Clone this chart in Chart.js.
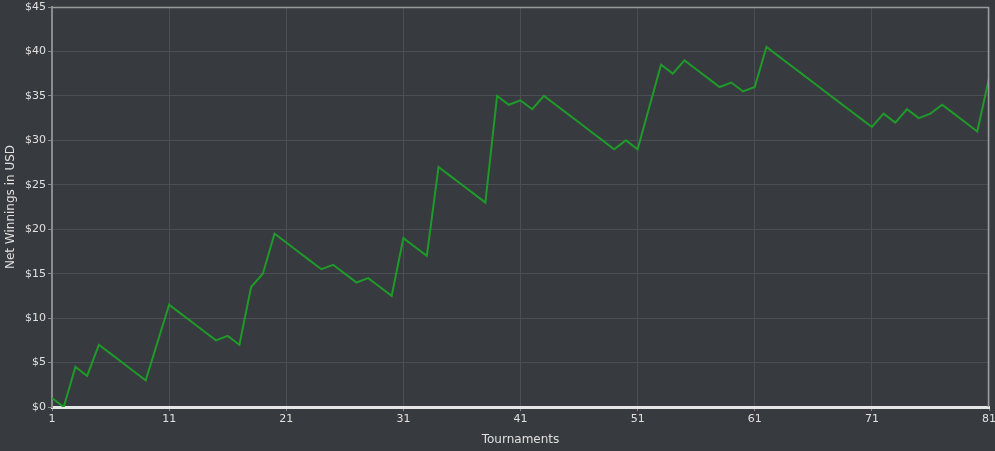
<!DOCTYPE html>
<html>
<head>
<meta charset="utf-8">
<script src="https://cdn.jsdelivr.net/npm/chart.js@4/dist/chart.umd.min.js"></script>
<style>
  html, body { margin: 0; padding: 0; background: #373a3e; }
  #wrap { width: 995px; height: 451px; }
</style>
</head>
<body>
<div id="wrap"><canvas id="winnings_chart"></canvas></div>
<script>
// net winnings after each tournament
const net_winnings = [
  1, 0, 4.5, 3.5, 7, 6, 5, 4, 3, 7.25,
  11.5, 10.5, 9.5, 8.5, 7.5, 8, 7, 13.5, 15, 19.5,
  18.5, 17.5, 16.5, 15.5, 16, 15, 14, 14.5, 13.5, 12.5,
  19, 18, 17, 27, 26, 25, 24, 23, 35, 34,
  34.5, 33.5, 35, 34, 33, 32, 31, 30, 29, 30,
  29, 33.75, 38.5, 37.5, 39, 38, 37, 36, 36.5, 35.5,
  36, 40.5, 39.5, 38.5, 37.5, 36.5, 35.5, 34.5, 33.5, 32.5,
  31.5, 33, 32, 33.5, 32.5, 33, 34, 33, 32, 31,
  37,
];
const y_ticks = [0, 5, 10, 15, 20, 25, 30, 35, 40, 45];
const x_ticks = [1, 11, 21, 31, 41, 51, 61, 71, 81];

const tournaments = net_winnings.map((v, i) => i + 1);

const font = { family: "DejaVu Sans", size: 11 };

// top and right frame lines
const frame = {
  id: "frame",
  afterDraw(chart) {
    const a = chart.chartArea;
    const ctx = chart.ctx;
    ctx.save();
    ctx.strokeStyle = "#9a9c9e";
    ctx.lineWidth = 1.5;
    ctx.beginPath();
    ctx.moveTo(a.left, a.top + 0.5);
    ctx.lineTo(a.right - 0.5, a.top + 0.5);
    ctx.lineTo(a.right - 0.5, a.bottom);
    ctx.stroke();
    ctx.restore();
  },
};

const winnings_ctx = document.getElementById("winnings_chart");

const winnings_chart = new Chart(winnings_ctx, {
  type: "line",
  data: {
    labels: tournaments,
    datasets: [
      {
        data: net_winnings.map((v, i) => ({ x: tournaments[i], y: v })),
        borderColor: "#1f9a2a",
        borderWidth: 2,
        pointRadius: 0,
        tension: 0,
      },
    ],
  },
  options: {
    responsive: true,
    maintainAspectRatio: false,
    animation: false,
    layout: { padding: { top: 7, right: 6, left: 0, bottom: 0 } },
    plugins: {
      legend: { display: false },
      tooltip: { enabled: false },
    },
    scales: {
      x: {
        type: "linear",
        min: 1,
        max: 81,
        afterBuildTicks(scale) {
          scale.ticks = x_ticks.map((v) => ({ value: v }));
        },
        afterFit(scale) {
          scale.height = 44;
          scale.paddingLeft = 0;
          scale.paddingRight = 0;
        },
        grid: { color: "#4b4e52", tickLength: 4, tickColor: "#8a8c8e" },
        border: { color: "#e6e6e6", width: 3 },
        ticks: { color: "#e0e0e0", font: font, padding: 2, maxRotation: 0 },
        title: {
          display: true,
          text: "Tournaments",
          color: "#e0e0e0",
          font: { family: "DejaVu Sans", size: 12 },
          padding: { top: 4 },
        },
      },
      y: {
        min: 0,
        max: 45,
        afterBuildTicks(scale) {
          scale.ticks = y_ticks.map((v) => ({ value: v }));
        },
        afterFit(scale) {
          scale.width = 52;
          scale.paddingTop = 0;
          scale.paddingBottom = 0;
        },
        grid: { color: "#4b4e52", tickLength: 4, tickColor: "#8a8c8e" },
        border: { color: "#8a8c8e", width: 2 },
        ticks: {
          color: "#e0e0e0",
          font: font,
          padding: 2,
          callback: (v) => "$" + v,
        },
        title: {
          display: true,
          text: "Net Winnings in USD",
          color: "#e0e0e0",
          font: { family: "DejaVu Sans", size: 12 },
          padding: { bottom: 2 },
        },
      },
    },
  },
  plugins: [frame],
});
</script>
</body>
</html>
